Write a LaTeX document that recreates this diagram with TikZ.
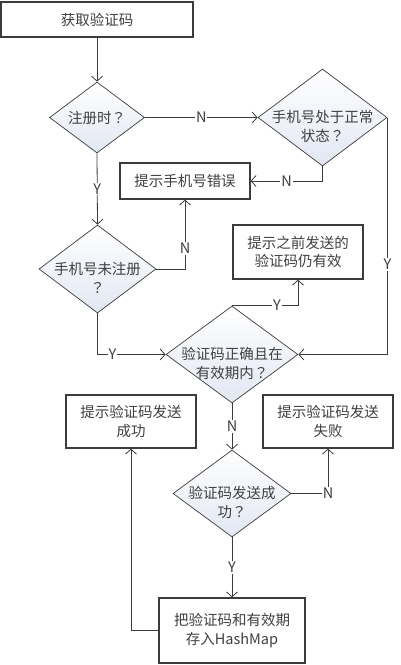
\documentclass[tikz,border=0pt]{standalone}
\usepackage{fontspec}
\setmainfont{Noto Sans CJK SC}
\newfontfamily\qfont{Noto Sans CJK JP}
\usetikzlibrary{shapes.geometric,arrows.meta}
\definecolor{txtgray}{RGB}{64,64,64}
\definecolor{linegray}{RGB}{60,60,60}
\definecolor{decblue}{RGB}{226,231,243}
\newcommand{\qm}{{\qfont ？}}

\begin{document}
\begin{tikzpicture}[x=1pt,y=-1pt,
    every node/.style={font=\fontsize{14.5}{18.5}\selectfont, text=txtgray},
    proc/.style={draw=linegray, line width=1.2pt, fill=white, inner sep=0pt, align=center},
    dec/.style={diamond, draw=linegray, line width=0.7pt, top color=white, bottom color=decblue, inner sep=0pt},
    yn/.style={fill=white, inner sep=1pt},
    flow/.style={draw=linegray, line width=0.8pt, -{Straight Barb[length=5pt,width=11pt]}}]
             \useasboundingbox (0,0) rectangle (400,665);

             \node[proc, minimum width=192pt, minimum height=35pt] (b1) at (97,19.5) {获取验证码};
             \node[dec, minimum width=95pt, minimum height=71pt,
                   label={[align=center]center:注册时\qm}] (d1) at (97,117.5) {};
             \node[dec, minimum width=129pt, minimum height=97pt,
                   label={[align=center, yshift=-9pt]center:手机号处于正常\\状态\qm}] (d2) at (322.5,117.5) {};
             \node[proc, minimum width=130pt, minimum height=36pt] (b2) at (185,181) {提示手机号错误};

             \node[dec, minimum width=117pt, minimum height=88pt,
                   label={[align=center, yshift=-9pt]center:手机号未注册\\\qm}] (d3) at (97.5,269) {};
             \node[proc, minimum width=130pt, minimum height=54pt] (b3) at (298,252) {提示之前发送的\\验证码仍有效};

             \node[dec, minimum width=132pt, minimum height=97pt,
                   label={[align=center, yshift=-9pt]center:验证码正确且在\\有效期内\qm}] (d4) at (232,354.5) {};
             \node[proc, minimum width=130pt, minimum height=53pt] (b4) at (131,421.5) {提示验证码发送\\成功};
             \node[proc, minimum width=130pt, minimum height=53pt] (b5) at (328,421.5) {提示验证码发送\\失败};

             \node[dec, minimum width=118pt, minimum height=87pt,
                   label={[align=center, yshift=-9pt]center:验证码发送成\\功\qm}] (d5) at (232,493.5) {};
             \node[proc, minimum width=146pt, minimum height=65pt] (b6) at (232,630.5) {把验证码和有效期\\存入HashMap};

             \draw[flow] (b1.south) -- (d1.north);
             \draw[flow] (d1.east) -- node[yn] {N} (d2.west);
             \draw[flow] (d2.south) |- node[yn, pos=0.75] {N} (b2.east);
             \draw[flow] (d1.south) -- node[yn] {Y} (d3.north);
             \draw[flow] (d3.east) -| node[yn, pos=0.65] {N} (b2.south);

             \draw[flow] (d4.north) -| node[yn, pos=0.34] {Y} (b3.south);
             \draw[flow] (d3.south) |- node[yn, pos=0.61] {Y} (d4.west);
             \draw[flow] (d2.east) |- node[yn, pos=0.31] {Y} (d4.east);

             \draw[flow] (d4.south) -- node[yn] {N} (d5.north);
             \draw[flow] (d5.east) -| node[yn, pos=0.5] {N} (b5.south);
             \draw[flow] (d5.south) -- node[yn] {Y} (b6.north);
             \draw[flow] (b6.west) -| (b4.south);
\end{tikzpicture}
\end{document}
